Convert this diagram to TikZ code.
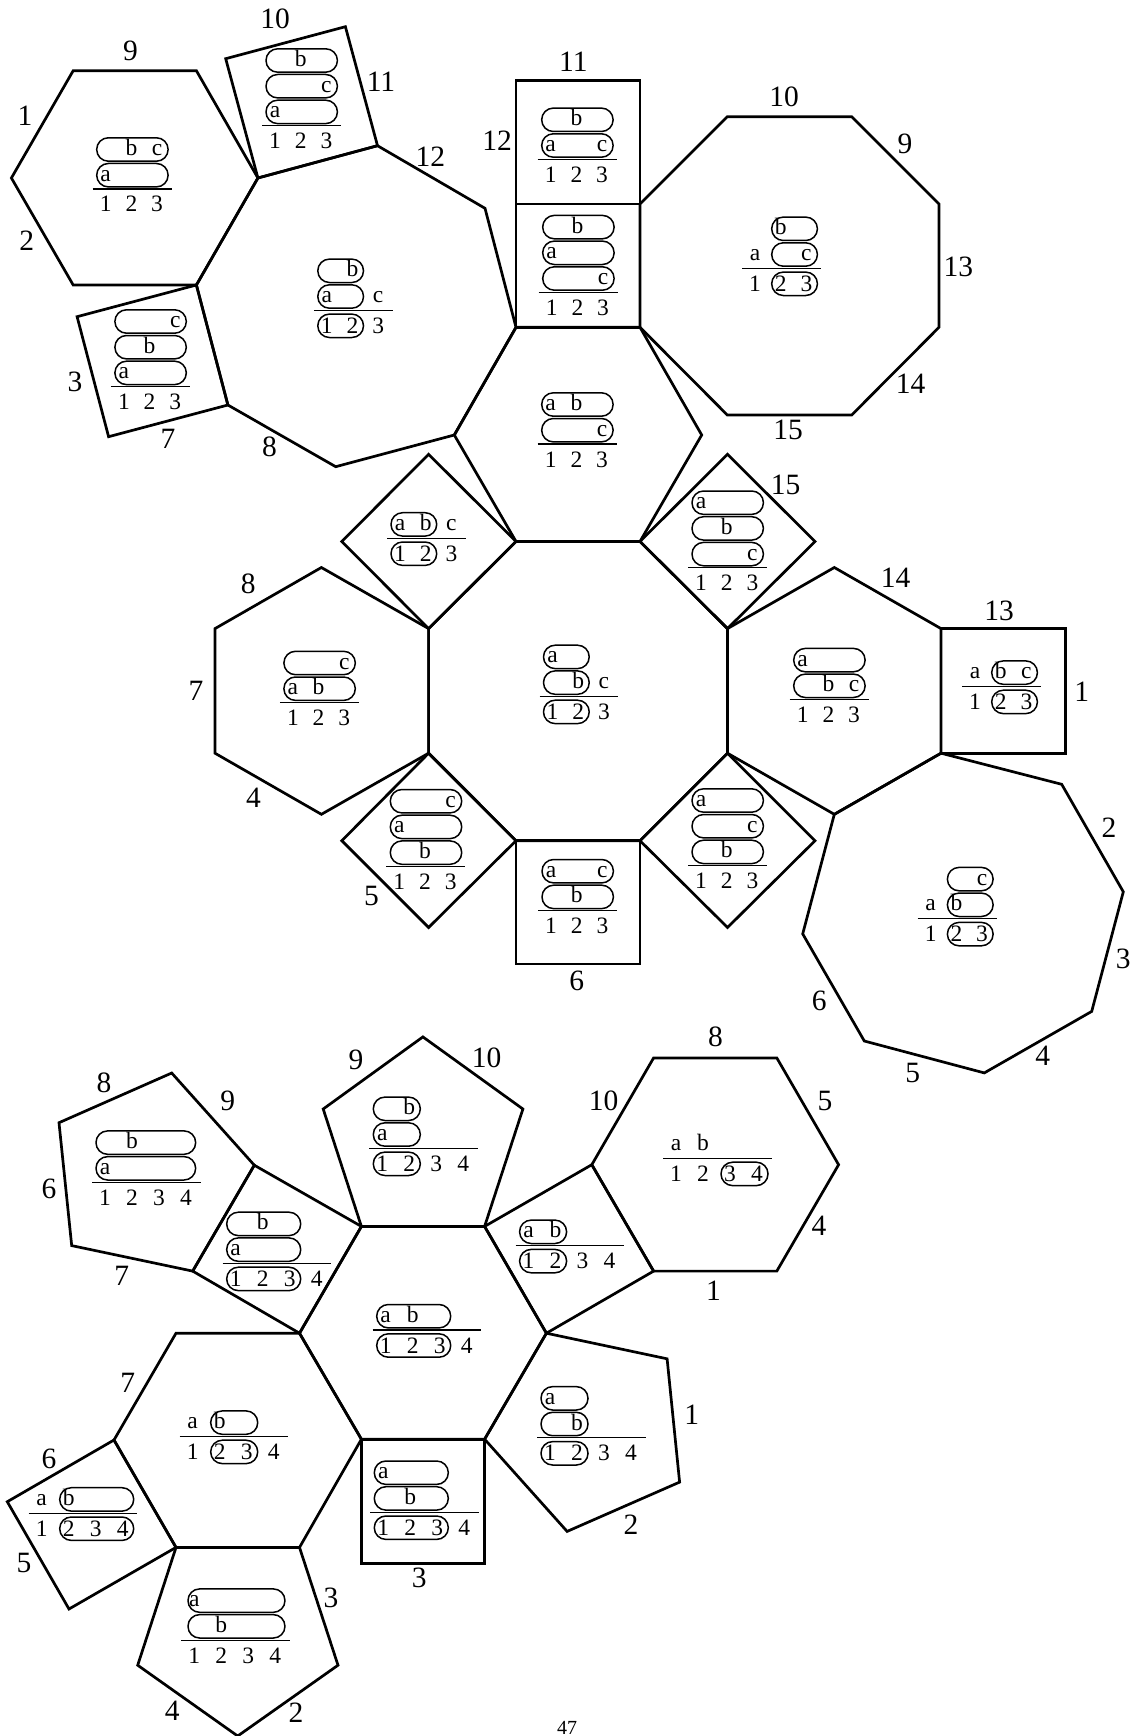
\documentclass[tikz,border=0pt]{standalone}
\usepackage{fontspec}
\setmainfont{Liberation Serif}
\tikzset{
  poly/.style={draw=black,line width=2.7pt,line join=miter},
  pillshape/.style={draw=black,line width=1.5pt},
  fracline/.style={draw=black,line width=1.1pt},
  tabtext/.style={anchor=base,inner sep=0pt,font=\fontsize{23.5}{25}\selectfont},
  edgelabel/.style={anchor=center,inner sep=0pt,font=\fontsize{29.5}{31}\selectfont},
}
\newcommand{\Tb}[5]{% x, y, ncols, spacing, body
  \begin{scope}[shift={(#1,#2)}]
    \def\cs{#4}
    \pgfmathsetmacro{\xe}{(#3-1)*#4+14.5}
    \draw[fracline] (-13,0) -- (\xe,0);
    #5
  \end{scope}}
\newcommand{\Pl}[3]{% from col, to col, row
  \pgfmathsetmacro{\xa}{(#1-1)*\cs-9}
  \pgfmathsetmacro{\xb}{(#2-1)*\cs+11}
  \pgfmathsetmacro{\yc}{#3==0?15.5:-13.8-(#3-1)*25.7}
  \pgfmathsetmacro{\ya}{\yc-11.7}
  \pgfmathsetmacro{\yb}{\yc+11.7}
  \draw[pillshape,rounded corners=11.6pt] (\xa,\ya) rectangle (\xb,\yb);}
\newcommand{\Tx}[3]{% col, row, text
  \pgfmathsetmacro{\xa}{(#1-1)*\cs}
  \pgfmathsetmacro{\yc}{#2==0?23:-13.8-(#2-1)*25.7+6}
  \node[tabtext] at (\xa,\yc) {#3};}
\newcommand{\Dg}[1]{\Tx{1}{0}{1}\Tx{2}{0}{2}\Tx{3}{0}{3}\ifnum#1>3 \Tx{4}{0}{4}\fi}
\newcommand{\El}[3]{\node[edgelabel] at (#1,#2) {#3};}
\begin{document}
\begin{tikzpicture}[x=1pt,y=-1pt]
\useasboundingbox (0,0) rectangle (1135,1736);
% upper figure: polygons
\draw[poly] (73.2,70.7)--(196.4,70.7)--(257.9,178)--(196.4,285)--(73.2,285)--(11.4,178)--cycle;
\draw[poly] (225.7,58.7)--(345.4,26.7)--(377.5,145.7)--(257.9,178)--cycle;
\draw[poly] (257.9,178)--(377.5,145.7)--(485,208.3)--(516,327.3)--(454.3,435)--(335.7,466.7)--(227.9,405)--(196.4,285)--cycle;
\draw[poly] (77.1,316.7)--(196.4,285)--(227.9,405)--(108.6,436.7)--cycle;
\draw[poly] (516,80.7)--(640,80.7)--(640,204)--(516,204)--cycle;
\draw[poly] (516,204)--(640,204)--(640,327.3)--(516,327.3)--cycle;
\draw[poly] (727.3,116.7)--(851.7,116.7)--(939,204)--(939,327.3)--(851.7,415)--(727.3,415)--(640,327.3)--(640,204)--cycle;
\draw[poly] (516,327.3)--(640,327.3)--(701.7,435)--(640,541.5)--(516,541.5)--(454.3,435)--cycle;
\draw[poly] (516,541.5)--(640,541.5)--(727.5,628.6)--(727.5,753.2)--(640,840.7)--(516,840.7)--(428.6,753.2)--(428.6,628.6)--cycle;
\draw[poly] (428.6,454.3)--(516,541.5)--(428.6,628.6)--(341.8,541.5)--cycle;
\draw[poly] (727.5,454.3)--(815,541.5)--(727.5,628.6)--(640,541.5)--cycle;
\draw[poly] (428.6,753.2)--(516,840.7)--(428.6,927.5)--(341.8,840.7)--cycle;
\draw[poly] (727.5,753.2)--(815,840.7)--(727.5,927.5)--(640,840.7)--cycle;
\draw[poly] (516,840.7)--(640,840.7)--(640,964)--(516,964)--cycle;
\draw[poly] (428.6,628.6)--(321.4,567.5)--(215,628.6)--(215,753.2)--(321.4,814.3)--(428.6,753.2)--cycle;
\draw[poly] (727.5,628.6)--(834.3,567.5)--(941,628.6)--(941,753.2)--(834.3,814.3)--(727.5,753.2)--cycle;
\draw[poly] (941,628.6)--(1065.7,628.6)--(1065.7,753.2)--(941,753.2)--cycle;
\draw[poly] (941,753.2)--(1061.7,784.3)--(1123.3,891.8)--(1091.7,1011.4)--(984.3,1072.9)--(864.3,1041)--(802.7,933.9)--(834.3,814.3)--cycle;
% lower figure: polygons
\draw[poly] (361.4,1226.4)--(323.2,1109)--(422.9,1036.9)--(522.9,1109)--(484.6,1226.4)--cycle;
\draw[poly] (361.4,1226.4)--(484.6,1226.4)--(546.4,1333.2)--(484.6,1439.2)--(361.4,1439.2)--(299.5,1333.2)--cycle;
\draw[poly] (484.6,1226.4)--(591.8,1164.7)--(653.6,1271.1)--(546.4,1333.2)--cycle;
\draw[poly] (591.8,1164.7)--(653.6,1057.9)--(776.8,1057.9)--(838.6,1164.7)--(776.8,1271.1)--(653.6,1271.1)--cycle;
\draw[poly] (546.4,1333.2)--(667.1,1358.8)--(679.6,1482.1)--(567.1,1531.4)--(484.6,1439.2)--cycle;
\draw[poly] (361.4,1439.2)--(484.6,1439.2)--(484.6,1563.4)--(361.4,1563.4)--cycle;
\draw[poly] (59,1122.7)--(171.7,1073)--(254.3,1165.2)--(192.7,1271.1)--(71.7,1245.6)--cycle;
\draw[poly] (254.3,1165.2)--(361.4,1226.4)--(299.5,1333.2)--(192.7,1271.1)--cycle;
\draw[poly] (299.5,1333.2)--(361.4,1439.2)--(299.5,1547.4)--(176,1547.4)--(114,1440)--(176,1333.2)--cycle;
\draw[poly] (114,1440)--(176,1547.4)--(69,1609)--(7.3,1501.7)--cycle;
\draw[poly] (176,1547.4)--(299.5,1547.4)--(338,1665.2)--(237.7,1736)--(137.7,1665.2)--cycle;
% upper figure: tableaux
\Tb{105.7}{189}{3}{25.7}{\Dg{3}\Pl{1}{3}{1}\Tx{1}{1}{a}\Pl{1}{3}{2}\Tx{2}{2}{b}\Tx{3}{2}{c}}
\Tb{275}{125.7}{3}{25.7}{\Dg{3}\Pl{1}{3}{1}\Tx{1}{1}{a}\Pl{1}{3}{2}\Tx{3}{2}{c}\Pl{1}{3}{3}\Tx{2}{3}{b}}
\Tb{326.8}{310.3}{3}{25.7}{\Dg{3}\Pl{1}{2}{0}\Pl{1}{2}{1}\Tx{1}{1}{a}\Tx{3}{1}{c}\Pl{1}{2}{2}\Tx{2}{2}{b}}
\Tb{123.9}{386.7}{3}{25.7}{\Dg{3}\Pl{1}{3}{1}\Tx{1}{1}{a}\Pl{1}{3}{2}\Tx{2}{2}{b}\Pl{1}{3}{3}\Tx{3}{3}{c}}
\Tb{550.7}{159.3}{3}{25.7}{\Dg{3}\Pl{1}{3}{1}\Tx{1}{1}{a}\Tx{3}{1}{c}\Pl{1}{3}{2}\Tx{2}{2}{b}}
\Tb{551.7}{292.3}{3}{25.7}{\Dg{3}\Pl{1}{3}{1}\Tx{3}{1}{c}\Pl{1}{3}{2}\Tx{1}{2}{a}\Pl{1}{3}{3}\Tx{2}{3}{b}}
\Tb{755}{268.3}{3}{25.7}{\Dg{3}\Pl{2}{3}{0}\Tx{1}{1}{a}\Pl{2}{3}{1}\Tx{3}{1}{c}\Pl{2}{3}{2}\Tx{2}{2}{b}}
\Tb{550.7}{444}{3}{25.7}{\Dg{3}\Pl{1}{3}{1}\Tx{3}{1}{c}\Pl{1}{3}{2}\Tx{1}{2}{a}\Tx{2}{2}{b}}
\Tb{701}{567.9}{3}{25.7}{\Dg{3}\Pl{1}{3}{1}\Tx{3}{1}{c}\Pl{1}{3}{2}\Tx{2}{2}{b}\Pl{1}{3}{3}\Tx{1}{3}{a}}
\Tb{400}{538.2}{3}{25.7}{\Dg{3}\Pl{1}{2}{0}\Pl{1}{2}{1}\Tx{1}{1}{a}\Tx{2}{1}{b}\Tx{3}{1}{c}}
\Tb{552.5}{696.4}{3}{25.7}{\Dg{3}\Pl{1}{2}{0}\Pl{1}{2}{1}\Tx{2}{1}{b}\Tx{3}{1}{c}\Pl{1}{2}{2}\Tx{1}{2}{a}}
\Tb{292.9}{702.5}{3}{25.7}{\Dg{3}\Pl{1}{3}{1}\Tx{1}{1}{a}\Tx{2}{1}{b}\Pl{1}{3}{2}\Tx{3}{2}{c}}
\Tb{399.3}{866.4}{3}{25.7}{\Dg{3}\Pl{1}{3}{1}\Tx{2}{1}{b}\Pl{1}{3}{2}\Tx{1}{2}{a}\Pl{1}{3}{3}\Tx{3}{3}{c}}
\Tb{551}{910.7}{3}{25.7}{\Dg{3}\Pl{1}{3}{1}\Tx{2}{1}{b}\Pl{1}{3}{2}\Tx{1}{2}{a}\Tx{3}{2}{c}}
\Tb{701}{865.7}{3}{25.7}{\Dg{3}\Pl{1}{3}{1}\Tx{2}{1}{b}\Pl{1}{3}{2}\Tx{3}{2}{c}\Pl{1}{3}{3}\Tx{1}{3}{a}}
\Tb{802.7}{699.6}{3}{25.7}{\Dg{3}\Pl{1}{3}{1}\Tx{2}{1}{b}\Tx{3}{1}{c}\Pl{1}{3}{2}\Tx{1}{2}{a}}
\Tb{975}{686.4}{3}{25.7}{\Dg{3}\Pl{2}{3}{0}\Tx{1}{1}{a}\Pl{2}{3}{1}\Tx{2}{1}{b}\Tx{3}{1}{c}}
\Tb{930.7}{918.6}{3}{25.7}{\Dg{3}\Pl{2}{3}{0}\Tx{1}{1}{a}\Pl{2}{3}{1}\Tx{2}{1}{b}\Pl{2}{3}{2}\Tx{3}{2}{c}}
% lower figure: tableaux
\Tb{105}{1182.1}{4}{27}{\Dg{4}\Pl{1}{3.95}{1}\Tx{1}{1}{a}\Pl{1}{3.95}{2}\Tx{2}{2}{b}}
\Tb{235.7}{1263.4}{4}{27}{\Dg{4}\Pl{1}{3}{0}\Pl{1}{3}{1}\Tx{1}{1}{a}\Pl{1}{3}{2}\Tx{2}{2}{b}}
\Tb{41.7}{1513.2}{4}{27}{\Dg{4}\Pl{2}{4}{0}\Tx{1}{1}{a}\Pl{2}{4}{1}\Tx{2}{1}{b}}
\Tb{192.7}{1436.4}{4}{27}{\Dg{4}\Pl{2}{3}{0}\Tx{1}{1}{a}\Pl{2}{3}{1}\Tx{2}{1}{b}}
\Tb{194.3}{1640.1}{4}{27}{\Dg{4}\Pl{1.1}{3.95}{1}\Tx{2}{1}{b}\Pl{1.1}{3.95}{2}\Tx{1}{2}{a}}
\Tb{382.3}{1148.3}{4}{27}{\Dg{4}\Pl{1}{2}{0}\Pl{1}{2}{1}\Tx{1}{1}{a}\Pl{1}{2}{2}\Tx{2}{2}{b}}
\Tb{385.7}{1330}{4}{27}{\Dg{4}\Pl{1}{3}{0}\Pl{1}{3}{1}\Tx{1}{1}{a}\Tx{2}{1}{b}}
\Tb{383.3}{1512.2}{4}{27}{\Dg{4}\Pl{1}{3}{0}\Pl{1}{3}{1}\Tx{2}{1}{b}\Pl{1}{3}{2}\Tx{1}{2}{a}}
\Tb{528.6}{1245.6}{4}{27}{\Dg{4}\Pl{1}{2}{0}\Pl{1}{2}{1}\Tx{1}{1}{a}\Tx{2}{1}{b}}
\Tb{676}{1158.4}{4}{27}{\Dg{4}\Pl{3}{4}{0}\Tx{1}{1}{a}\Tx{2}{1}{b}}
\Tb{550}{1437.8}{4}{27}{\Dg{4}\Pl{1}{2}{0}\Pl{1}{2}{1}\Tx{2}{1}{b}\Pl{1}{2}{2}\Tx{1}{2}{a}}
% edge labels, upper figure
\El{130.4}{51}{9}\El{25}{115.7}{1}\El{26.8}{240.7}{2}\El{275}{19.3}{10}\El{381}{81.7}{11}
\El{430.4}{156.7}{12}\El{497}{140.7}{12}\El{75}{381.7}{3}\El{167.9}{439.3}{7}\El{269.6}{446.7}{8}
\El{573.3}{61.7}{11}\El{784}{96.7}{10}\El{905}{144.3}{9}\El{958.3}{266.7}{13}\El{910.7}{383.3}{14}
\El{788}{430}{15}\El{785.7}{485}{15}\El{248.2}{583.6}{8}\El{196}{691}{7}\El{253.6}{797.9}{4}
\El{371.4}{896}{5}\El{576.8}{981}{6}\El{895.7}{578.2}{14}\El{999}{610.4}{13}\El{1081.7}{691.8}{1}
\El{1109}{828.2}{2}\El{1123.3}{958.6}{3}\El{1042.7}{1056}{4}\El{912.7}{1073.2}{5}\El{819.3}{1000.7}{6}
% edge labels, lower figure
\El{104}{1082.6}{8}\El{227.7}{1101.3}{9}\El{49}{1189}{6}\El{121.7}{1275.7}{7}\El{356}{1060.2}{9}
\El{486.7}{1057.9}{10}\El{127.7}{1383}{7}\El{49}{1459.3}{6}\El{24}{1563.4}{5}\El{331}{1597.6}{3}
\El{172.3}{1710.4}{4}\El{296}{1712.7}{2}\El{419.3}{1578}{3}\El{715.4}{1036.9}{8}\El{603.6}{1101.3}{10}
\El{825}{1101.3}{5}\El{818.9}{1225.5}{4}\El{713.6}{1290.3}{1}\El{691.8}{1415}{1}\El{631}{1524.6}{2}
\node[anchor=center,inner sep=0pt,font=\fontsize{20}{22}\selectfont] at (567,1728.3) {47};
\end{tikzpicture}
\end{document}
